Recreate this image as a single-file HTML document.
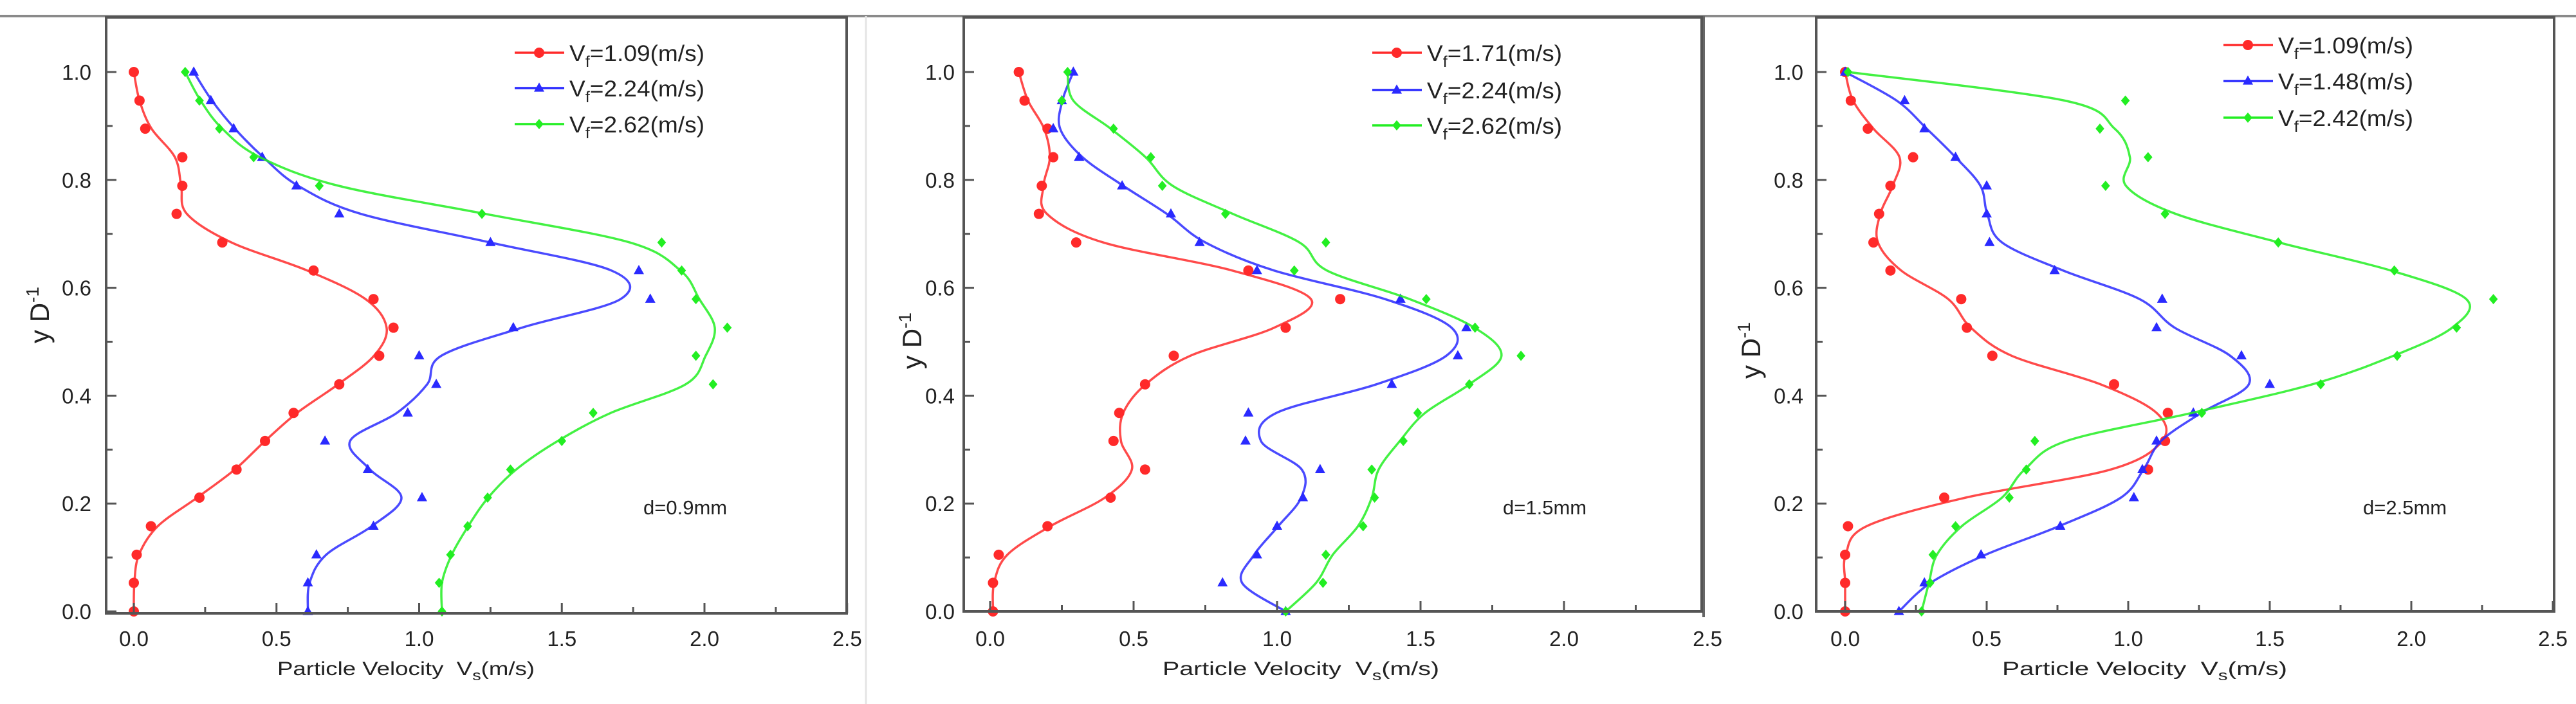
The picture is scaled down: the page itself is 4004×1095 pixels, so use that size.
<!DOCTYPE html>
<html><head><meta charset="utf-8">
<style>
html,body{margin:0;padding:0;background:#fff;}
svg{display:block;}
text{font-family:"Liberation Sans",sans-serif;fill:#222;}
</style></head>
<body>
<svg id="chart" width="4004" height="1095" viewBox="0 0 4004 1095" xmlns="http://www.w3.org/2000/svg">
<rect x="0" y="0" width="4004" height="1095" fill="#fff"/>
<line x1="0" y1="25" x2="4004" y2="25" stroke="#8a8a8a" stroke-width="4"/>
<line x1="1346" y1="25" x2="1346" y2="1095" stroke="#e4e4e4" stroke-width="3"/>
<line x1="2648" y1="25" x2="2648" y2="960" stroke="#666" stroke-width="4"/>
<g id="plots"></g>
</svg>
<script>
const yLevels = [1.0,0.947,0.895,0.842,0.789,0.737,0.684,0.632,0.579,0.526,0.474,0.421,0.368,0.316,0.263,0.211,0.158,0.105,0.053,0.0];
const xTickLabels = ["0.0","0.5","1.0","1.5","2.0","2.5"];
const yTickLabels = ["0.0","0.2","0.4","0.6","0.8","1.0"];

const p1Red   = [0.0,0.02,0.04,0.17,0.17,0.15,0.31,0.63,0.84,0.91,0.86,0.72,0.56,0.46,0.36,0.23,0.06,0.01,0.0,0.0];
const p1Blue  = [0.21,0.27,0.35,0.45,0.57,0.72,1.25,1.77,1.81,1.33,1.0,1.06,0.96,0.67,0.82,1.01,0.84,0.64,0.61,0.61];
const p1Green = [0.18,0.23,0.30,0.42,0.65,1.22,1.85,1.92,1.97,2.08,1.97,2.03,1.61,1.50,1.32,1.24,1.17,1.11,1.07,1.08];

const p2Red   = [0.10,0.12,0.20,0.22,0.18,0.17,0.30,0.90,1.22,1.03,0.64,0.54,0.45,0.43,0.54,0.42,0.20,0.03,0.01,0.01];
const p2Blue  = [0.29,0.25,0.22,0.31,0.46,0.63,0.73,0.93,1.43,1.66,1.63,1.40,0.90,0.89,1.15,1.09,1.00,0.93,0.81,1.03];
const p2Green = [0.27,0.25,0.43,0.56,0.60,0.82,1.17,1.06,1.52,1.69,1.85,1.67,1.49,1.44,1.33,1.34,1.30,1.17,1.16,1.03];

const p3Red   = [0.0,0.02,0.08,0.24,0.16,0.12,0.10,0.16,0.41,0.43,0.52,0.95,1.14,1.13,1.07,0.35,0.01,0.0,0.0,0.0];
const p3Blue  = [0.0,0.21,0.28,0.39,0.50,0.50,0.51,0.74,1.12,1.10,1.40,1.50,1.23,1.10,1.05,1.02,0.76,0.48,0.28,0.19];
const p3Green = [0.01,0.99,0.90,1.07,0.92,1.13,1.53,1.94,2.29,2.16,1.95,1.68,1.26,0.67,0.64,0.58,0.39,0.31,0.30,0.27];

const p1Legend = ["1.09","2.24","2.62"];
const p2Legend = ["1.71","2.24","2.62"];
const p3Legend = ["1.09","1.48","2.42"];

const NS = "http://www.w3.org/2000/svg";
const COLORS = ["#ff2a2a","#2a2aff","#22ee22"];
const MARK = ["circle","triangle","diamond"];

const panels = [
  {id:"p1", fl:165, fr:1316, ft:27, fb:954, x0:208, xs:443.5, y1:112, y0:951, leg:p1Legend, legX:800, legY:[82,137,193], dx:1000, series:[p1Red,p1Blue,p1Green], yt:{x:62,y:490}, xt:{x:431,w:400}, d:"d=0.9mm", tickR:142},
  {id:"p2", fl:1498, fr:2645, ft:27, fb:951, x0:1539, xs:446, y1:112, y0:951, leg:p2Legend, legX:2133, legY:[82,140,195], dx:2336, series:[p2Red,p2Blue,p2Green], yt:{x:1418,y:530}, xt:{x:1807,w:430}, d:"d=1.5mm", tickR:1484},
  {id:"p3", fl:2823, fr:3970, ft:27, fb:951, x0:2868, xs:440, y1:112, y0:951, leg:p3Legend, legX:3456, legY:[70,126,183], dx:3673, series:[p3Red,p3Blue,p3Green], yt:{x:2722,y:545}, xt:{x:3112,w:443}, d:"d=2.5mm", tickR:2803}
];

function mk(tag, attrs, parent){
  const e = document.createElementNS(NS, tag);
  for (const k in attrs) e.setAttribute(k, attrs[k]);
  parent.appendChild(e);
  return e;
}
function smooth(a){
  const o=[];
  for(let i=0;i<a.length;i++){
    if(i===0||i===a.length-1){o.push(a[i]);continue;}
    o.push(0.2*a[i-1]+0.6*a[i]+0.2*a[i+1]);
  }
  return o;
}
function crPath(pts){
  let d="M"+pts[0][0].toFixed(1)+","+pts[0][1].toFixed(1);
  for(let i=0;i<pts.length-1;i++){
    const p0=pts[Math.max(0,i-1)],p1=pts[i],p2=pts[i+1],p3=pts[Math.min(pts.length-1,i+2)];
    const c1=[p1[0]+(p2[0]-p0[0])/6,p1[1]+(p2[1]-p0[1])/6];
    const c2=[p2[0]-(p3[0]-p1[0])/6,p2[1]-(p3[1]-p1[1])/6];
    d+=" C"+c1[0].toFixed(1)+","+c1[1].toFixed(1)+" "+c2[0].toFixed(1)+","+c2[1].toFixed(1)+" "+p2[0].toFixed(1)+","+p2[1].toFixed(1);
  }
  return d;
}
function marker(kind, cx, cy, color, parent, r){
  let e;
  if(kind==="circle"){
    e = mk("circle",{cx:cx,cy:cy,r:r,fill:color},parent);
  } else if(kind==="triangle"){
    e = mk("polygon",{points:(cx)+","+(cy-r*1.1)+" "+(cx-r)+","+(cy+r*0.7)+" "+(cx+r)+","+(cy+r*0.7),fill:color},parent);
  } else {
    e = mk("polygon",{points:cx+","+(cy-r)+" "+(cx+r*0.85)+","+cy+" "+cx+","+(cy+r)+" "+(cx-r*0.85)+","+cy,fill:color},parent);
  }
  return e;
}

const root = document.getElementById("plots");
const seriesNames = ["red","blue","green"];
panels.forEach((P, pi) => {
  const g = mk("g",{},root);
  
  
  const X = v => P.x0 + v*P.xs;
  const Y = v => P.y0 - v*(P.y0-P.y1);

  // series
  P.series.forEach((s, si) => {
    const sg = mk("g",{},g);
    
    
    const sm = smooth(s);
    const pts = sm.map((v,i)=>[X(v),Y(yLevels[i])]);
    const path = mk("path",{d:crPath(pts),fill:"none",stroke:COLORS[si],"stroke-width":3.5,"stroke-opacity":0.85},sg);
    
    
    s.forEach((v,i)=>{
      const m = marker(MARK[si], X(v), Y(yLevels[i]), COLORS[si], sg, 8);
      
      
    });
  });

  // frame
  const fr = mk("rect",{x:P.fl,y:P.ft,width:P.fr-P.fl,height:P.fb-P.ft,fill:"none",stroke:"#555","stroke-width":4},g);
  
  

  // x ticks
  const xg = mk("g",{},g);
  
  
  for(let k=0;k<=10;k++){
    const v=k*0.25, x=X(v);
    if(x>P.fr+2) continue;
    const len = k%2===0 ? 16 : 10;
    mk("line",{x1:x,y1:P.fb,x2:x,y2:P.fb-len,stroke:"#555","stroke-width":3},xg);
  }
  xTickLabels.forEach((lab,i)=>{
    const t = mk("text",{x:X(i*0.5),y:1005,"text-anchor":"middle","font-size":33},xg);
    t.textContent = lab;
    
    
  });
  const xt = mk("text",{x:P.xt.x,y:1050,"font-size":30,textLength:P.xt.w,lengthAdjust:"spacingAndGlyphs"},g);
  xt.innerHTML = 'Particle Velocity&#160;&#160;V<tspan font-size="22" dy="8">s</tspan><tspan dy="-8">(m/s)</tspan>';
  
  

  // y ticks
  const yg = mk("g",{},g);
  
  
  for(let k=0;k<=10;k++){
    const v=k*0.1, y=Y(v);
    const len = k%2===0 ? 16 : 10;
    mk("line",{x1:P.fl,y1:y,x2:P.fl+len,y2:y,stroke:"#555","stroke-width":3},yg);
  }
  yTickLabels.forEach((lab,i)=>{
    const t = mk("text",{x:P.tickR,y:Y(i*0.2)+12,"text-anchor":"end","font-size":33},yg);
    t.textContent = lab;
    
    
  });
  const yt = mk("text",{x:0,y:0,"font-size":42,"text-anchor":"middle",transform:"translate("+(P.yt.x+14)+","+P.yt.y+") rotate(-90)"},g);
  yt.innerHTML = 'y D<tspan font-size="28" dy="-16">-1</tspan>';
  
  

  // legend
  const lg = mk("g",{},g);
  
  
  P.leg.forEach((val,si)=>{
    const eg = mk("g",{},lg);
    
    
    const y = P.legY[si];
    mk("line",{x1:P.legX,y1:y,x2:P.legX+77,y2:y,stroke:COLORS[si],"stroke-width":3.5},eg);
    marker(MARK[si], P.legX+38, y, COLORS[si], eg, 8);
    const t = mk("text",{x:P.legX+85,y:y+13,"font-size":35,textLength:210,lengthAdjust:"spacingAndGlyphs"},eg);
    t.innerHTML = 'V<tspan font-size="24" dy="9">f</tspan><tspan dy="-9">='+val+'(m/s)</tspan>';
  });

  const dl = mk("text",{x:P.dx,y:800,"font-size":31},g);
  dl.textContent = P.d;
  
  
});
</script>
</body></html>
